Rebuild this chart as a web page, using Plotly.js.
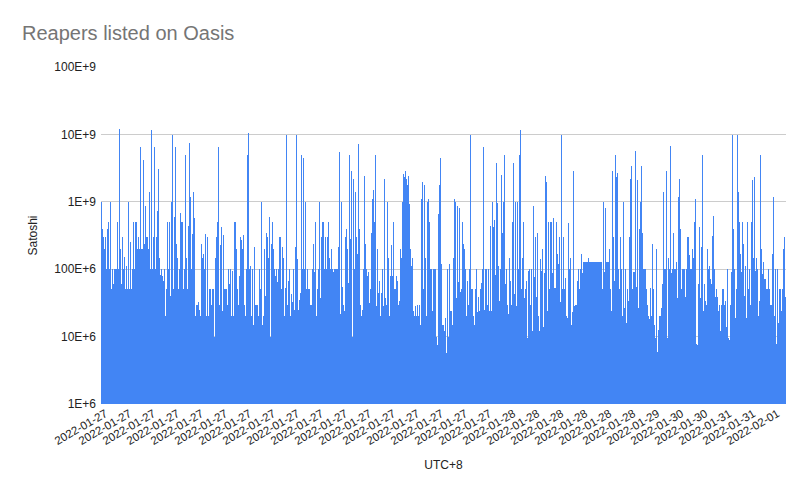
<!DOCTYPE html>
<html>
<head>
<meta charset="utf-8">
<script src="https://cdn.plot.ly/plotly-3.0.1.min.js"></script>
<style>
  html, body { margin: 0; padding: 0; background: #fff; }
  #chart { width: 807px; height: 491px; }
</style>
</head>
<body>
<div id="chart"></div>
<script>
// listing prices in satoshi, in listing order
var prices = [
  1e9,4e8,3e8,2e8,3e8,1e8,4e8,5e8,1e8,1e9,
  5e7,1e8,6e7,1e8,1e8,1e8,5e8,1e8,1.2e10,2e8,
  6e7,3e8,1e8,1.5e8,5e7,1.1e8,5e7,1e9,5e7,2.5e8,
  5e7,1e8,5e8,1e8,5e8,5e8,2e8,3e8,2e8,6.6e9,
  2e8,2e8,4.2e9,2.4e8,8.7e8,3e8,3e8,2e8,1.4e9,1e8,
  1.17e10,1e8,3e8,6.4e9,1e8,3e8,7.4e8,3.1e9,1.45e8,8.3e7,
  1e8,7.9e7,6.6e7,1e8,2e7,5e7,5e8,1e8,5e8,4e7,
  1e9,9.7e9,5e7,6e8,6.6e9,2.4e8,1.45e8,5e7,1e8,6.8e8,
  5e8,5e8,5e7,1e8,4.9e9,1.45e8,5e7,4.4e8,7.4e9,1.16e9,
  1e8,3.3e8,1.4e9,5.7e8,2e7,2.9e7,2.9e7,3.3e7,2.5e7,2e7,
  2.4e8,1.45e8,1.66e8,1e8,3.3e8,2e7,3e8,2e7,5e7,5e7,
  2.9e7,5e7,

  5e7,1e7,1.45e8,3e8,5e8,6.4e9,2.9e7,2.3e8,4.3e8,2.4e7,
  3.2e8,5e7,5e7,5e7,2.9e7,1e8,6e7,1e8,2e7,9.5e7,
  2e7,5e8,5e8,2e8,5e7,2.9e7,7.9e7,3e8,2.7e8,2e8,
  3.2e8,2.9e7,2e7,1e8,4.9e9,1.06e10,1e8,1.1e8,2e7,1e8,
  1.5e7,2.1e8,2.9e7,2.9e7,2.9e7,2e7,1e8,5e7,1e9,1.5e7,
  2e7,2e8,4e7,3.4e8,3e8,1.45e8,5.9e8,1e7,2.4e8,5e8,
  2e8,1e8,7.9e7,1e8,6.4e7,1e8,3e8,3e8,5e7,2.1e8,
  1.45e8,2e7,5.2e7,9.7e9,2.9e7,6.6e7,1e8,2e7,4.3e7,3.3e7,
  1e8,2.5e7,2.1e8,9.7e9,1.4e8,2.5e7,3.5e7,4.4e7,4.9e9,1e8,
  4.4e9,1e8,1e9,5e7,1e8,5e7,5e7,2.9e7,2.9e7,1e8,
  2.4e8,9e7,5e8,2e7,5e7,1e8,1e9,3.7e7,3e8,5e8,
  5e8,1e8,3e8,1e8,3e8,

  5e8,1.45e8,1e8,2e8,1e8,9e7,1e8,1e8,1e8,1e8,
  2.1e8,5.4e9,2.2e7,1e9,5.4e7,2.9e7,2.4e7,3e8,4e8,2e8,
  6.3e7,4.9e9,2.8e8,2.9e9,1e7,2.2e9,1e8,1.4e9,3e8,1.7e8,
  7.1e9,4e8,2.9e7,2e7,2.5e7,1e8,2.4e9,2.4e8,1e8,7.9e7,
  9e7,3.2e7,5e7,3.4e8,1.1e9,1.5e9,5e8,4.9e9,2.8e7,2e8,
  4.4e7,6.7e7,2e7,4.5e7,1e8,2.8e7,2.2e9,3.7e7,2.9e7,1e9,
  1.45e8,2e7,7.9e7,2.3e8,7.9e7,5e8,5e7,5e7,7.9e7,6.6e7,
  2.9e7,3.4e7,2e8,1.45e8,1e9,2.6e9,2.3e9,2.9e9,2.2e9,1.8e9,
  2.4e9,9.2e8,2e8,1.1e8,1.45e8,2.4e7,2e7,2.8e7,2e7,2.9e7,
  2e7,2.9e7,1.5e7,1.1e9,2e9,5e7,1.8e9,1.45e8,2e7,1e9,
  1.1e9,5e8,1e8,1e8,2.4e7,1e8,1e8,1e8,1e7,7.5e6,
  6.7e8,1.8e9,4.4e9,1.2e8,

  1.5e7,1.5e7,1.2e7,1.9e7,5.8e6,1e8,1e7,1.2e8,2.4e7,2.4e7,
  1.5e7,1.45e8,1.1e9,1e9,3.7e7,8.7e8,6.4e7,8.2e8,4.6e7,5e7,
  5e8,2.4e8,2e8,1e8,2e7,6.6e7,2.9e7,1e8,9.7e9,5e7,
  5e7,2e7,1.5e7,5e7,1e8,2.3e7,3.9e7,2.4e7,5e7,6.3e7,
  1e8,6.6e9,2.5e7,1e8,1e8,2.9e7,1e8,2.4e7,4.4e8,2.4e7,
  1e9,4.2e8,5.4e8,8.3e7,3.8e9,9.5e8,1.1e8,3.4e7,1e8,2.5e9,
  3.4e8,1e9,4.9e9,6e7,1e8,2.9e7,2.2e7,1.45e8,6.6e7,2.9e7,
  5e8,3.8e9,4.3e7,1e9,2.8e7,1e9,1e8,4.9e9,1.17e10,5e7,
  1.45e8,5e8,3.7e7,5e7,6.6e7,9.5e6,9.5e7,1e8,2.9e7,1e8,
  1.2e7,8.7e8,7.6e7,3e8,3.9e7,3.4e8,2e7,1.2e7,1.4e8,9.5e7,
  2e8,1.4e7,8.7e7,2.4e9,2e9,2.4e7,5e8,5e7,5e8,5e8,
  8.7e7,5.7e8,5.2e7,5.2e7,

  5e8,1.7e8,1.2e8,3e8,3.3e7,9.7e9,5e7,3e8,5e7,7.5e7,
  2e7,1.9e7,4.9e8,1e8,1.45e8,1.5e7,2.3e7,2.9e9,2.8e7,2.9e7,
  2.9e7,6.7e7,1e8,5e7,1e8,1.7e8,8.7e7,1.3e8,1.3e8,1.3e8,
  1.3e8,1.3e8,1.45e8,1.3e8,1.3e8,1.3e8,1.3e8,1.3e8,1.3e8,1.3e8,
  1.3e8,1.3e8,1.3e8,1.3e8,1.3e8,1.3e8,5e7,1e9,9e7,8.2e8,
  1.3e8,1.3e8,1.3e8,2e8,5e7,2.4e7,2.9e9,3e8,6.7e7,4.9e9,
  2.3e9,2.7e9,1e8,5e7,3e8,1e8,2e7,1e9,2.7e7,1e8,
  1.6e7,5e7,3.4e7,3e8,2.2e9,3.4e9,5e7,9e7,9e7,5.6e9,
  5.5e7,2.1e9,2.7e7,3.9e8,1e9,3.4e9,3.4e8,1e8,1e8,1e8,
  5e7,2.9e7,2e7,1.8e7,5.2e7,2e7,2.4e8,5e7,1.5e7,9.5e6,
  2e8,6e6,1.25e7,2e7,2e7,2.7e7,6e7,1.4e9,1e8,1e8,
  2.9e9,9.5e6,1.45e8,1e8,

  6.8e9,8.7e7,1e8,3.4e8,1e8,1e8,1.3e8,3.7e7,1.16e9,2.2e9,
  4e8,5e7,1e8,1e8,1e8,3.9e7,1e8,3e8,3e8,1.6e8,
  1e8,1e8,2e8,1.45e8,5e8,1.1e9,7.7e6,7.5e6,6e7,4.2e8,
  3.7e7,2.1e8,4.9e9,2.4e7,6e7,3.4e7,2.9e7,2e8,1e8,1.1e8,
  7.2e7,6e7,3.1e8,6.2e8,1e8,3.9e7,5e7,3.9e7,2.4e7,2.9e7,
  1.2e7,2.9e7,5e7,5e7,2.9e7,3.4e7,1.4e7,1e8,9.5e6,9e6,
  2.9e7,9e7,9.7e9,4e8,1e8,1.9e7,5e7,9.7e9,1.4e9,5e8,
  1.7e8,9e7,5e8,2.4e8,4e7,1.1e8,1.9e7,5e8,5e7,1e8,
  2.9e7,5e8,2.1e9,1.45e8,2.3e9,9.5e7,1.45e8,1e8,2e7,3.4e7,
  4.9e9,2e8,8.5e7,1.3e8,7.2e7,7.2e7,5e7,5e7,1e8,5e7,
  2.9e7,2.9e7,1.7e8,1.16e9,2e7,1e8,7.9e6,1e8,1.6e7,5e7,
  5e7,2.4e7,5e7,2e8,3e8,3.9e7
];

// date shown under every 24th listing
var tickDates = [
  '2022-01-27','2022-01-27','2022-01-27','2022-01-27','2022-01-27',
  '2022-01-27','2022-01-27','2022-01-27','2022-01-27','2022-01-27',
  '2022-01-27','2022-01-27','2022-01-27','2022-01-27','2022-01-27',
  '2022-01-27','2022-01-27','2022-01-28','2022-01-28','2022-01-28',
  '2022-01-28','2022-01-28','2022-01-28','2022-01-29','2022-01-30',
  '2022-01-30','2022-01-31','2022-01-31','2022-02-01'
];

var yTickVals = [1e6, 1e7, 1e8, 1e9, 1e10, 1e11];
var yTickText = ['1E+6', '10E+6', '100E+6', '1E+9', '10E+9', '100E+9'];

var listings = prices.map(function (p, i) { return i; });
var tickPos = tickDates.map(function (d, k) { return 4 + 24 * k; });

var font = 'Arial, "Liberation Sans", sans-serif';

Plotly.newPlot('chart', [{
  type: 'bar',
  x: listings,
  y: prices,
  marker: { color: '#4285F4', line: { width: 0 } },
  hoverinfo: 'y'
}], {
  width: 807,
  height: 491,
  margin: { l: 101, r: 21, t: 67, b: 87 },
  paper_bgcolor: '#fff',
  plot_bgcolor: '#fff',
  bargap: 0,
  showlegend: false,
  font: { family: font, size: 12, color: '#222' },
  title: {
    text: 'Reapers listed on Oasis',
    font: { family: font, size: 20, color: '#757575' },
    x: 22 / 807, xref: 'container', xanchor: 'left',
    y: 1 - 33 / 491, yref: 'container', yanchor: 'middle'
  },
  xaxis: {
    type: 'linear',
    range: [-0.5, prices.length - 0.5],
    tickmode: 'array',
    tickvals: tickPos,
    ticktext: tickDates,
    tickangle: -30,
    ticks: '',
    showgrid: false,
    zeroline: false,
    showline: false,
    tickfont: { size: 11.5, color: '#222' },
    title: { text: 'UTC+8', standoff: 14, font: { size: 12, color: '#222' } }
  },
  yaxis: {
    type: 'log',
    range: [6, 11],
    tickmode: 'array',
    tickvals: yTickVals,
    ticktext: yTickText,
    gridcolor: '#cccccc',
    zeroline: false,
    showline: false,
    ticks: '',
    ticklabelstandoff: 4,
    tickfont: { size: 12, color: '#222' },
    title: { text: 'Satoshi', standoff: 14, font: { size: 12, color: '#222' } }
  }
}, { displayModeBar: false, staticPlot: true });
</script>
</body>
</html>
